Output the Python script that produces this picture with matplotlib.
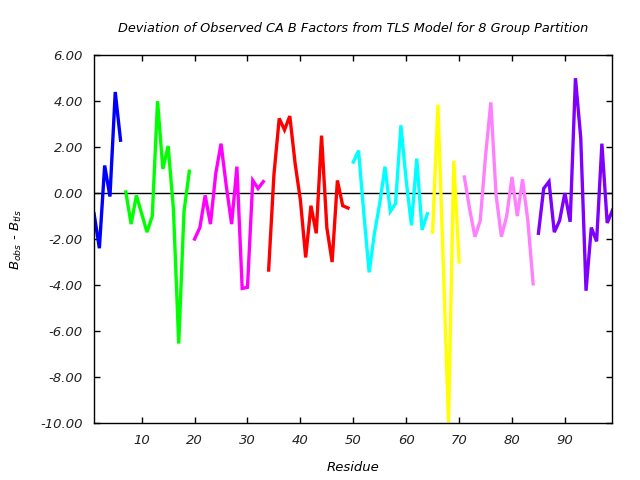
import matplotlib
matplotlib.use("Agg")
import matplotlib.pyplot as plt

plt.rcParams['font.family'] = ['DejaVu Sans']
plt.rcParams['font.style'] = 'italic'
plt.rcParams['mathtext.fontset'] = 'dejavusans'

title = "Deviation of Observed CA B Factors from TLS Model for 8 Group Partition"
xlabel = "Residue"

# group segments: (first residue, values, colour)
g1_start = 1
g1_vals = [-0.9, -2.4, 1.2, -0.15, 4.4, 2.3]
g2_start = 7
g2_vals = [0.05, -1.35, -0.1, -0.9, -1.7, -1.0, 4.0, 1.05, 2.05, -0.7, -6.55, -0.8, 0.95]
g3_start = 20
g3_vals = [-2.0, -1.5, -0.1, -1.35, 0.85, 2.15, 0.3, -1.35, 1.15, -4.15, -4.1, 0.55, 0.2, 0.5]
g4_start = 34
g4_vals = [-3.35, 0.8, 3.25, 2.75, 3.35, 1.3, -0.3, -2.8, -0.55, -1.75, 2.5, -1.5, -3.0, 0.55, -0.55, -0.65]
g5_start = 50
g5_vals = [1.35, 1.85, -0.9, -3.45, -1.75, -0.45, 1.15, -0.8, -0.45, 2.95, 0.55, -1.4, 1.5, -1.6, -0.9]
g6_start = 65
g6_vals = [-1.7, 3.85, -3.0, -10.0, 1.4, -3.0]
g7_start = 71
g7_vals = [0.7, -0.7, -1.9, -1.2, 1.6, 3.95, -0.1, -1.9, -1.0, 0.7, -1.0, 0.6, -1.2, -3.95]
g8_start = 85
g8_vals = [-1.75, 0.2, 0.5, -1.7, -1.2, 0.0, -1.25, 5.0, 2.4, -4.25, -1.5, -2.1, 2.15, -1.3, -0.75]

groups = [
    (g1_start, g1_vals, "#0000ff"),
    (g2_start, g2_vals, "#00ff00"),
    (g3_start, g3_vals, "#ff00ff"),
    (g4_start, g4_vals, "#ff0000"),
    (g5_start, g5_vals, "#00ffff"),
    (g6_start, g6_vals, "#ffff00"),
    (g7_start, g7_vals, "#ff80ff"),
    (g8_start, g8_vals, "#8000ff"),
]

xticks = [10, 20, 30, 40, 50, 60, 70, 80, 90]
yticks = [6, 4, 2, 0, -2, -4, -6, -8, -10]

fig = plt.figure(figsize=(6.4, 4.8), dpi=100)
ax = fig.add_axes([0.147, 0.119, 0.810, 0.766])

ax.axhline(0, color="black", lw=1.0, zorder=1)
for start, vals, col in groups:
    xs = list(range(start, start + len(vals)))
    ax.plot(xs, vals, color=col, lw=2.4, solid_joinstyle="miter", zorder=2)

ax.set_xlim(1, 99)
ax.set_ylim(-10, 6)
ax.set_xticks(xticks)
ax.set_yticks(yticks)
ax.set_yticklabels([f"{v:.2f}" for v in yticks])
ax.tick_params(direction="in", length=4, width=1, top=True, right=True,
               labelsize=9.5, pad=8, labelcolor="#222222")
for s in ax.spines.values():
    s.set_linewidth(1.0)

ax.set_title(title, fontsize=9.3, fontstyle="italic", pad=17)
ax.set_xlabel(xlabel, fontsize=9.5, fontstyle="italic", labelpad=10)
ax.set_ylabel(r"$B_{obs}$ - $B_{tls}$", fontsize=9.5, fontstyle="italic", labelpad=12)

fig.savefig("out.png", dpi=100)
